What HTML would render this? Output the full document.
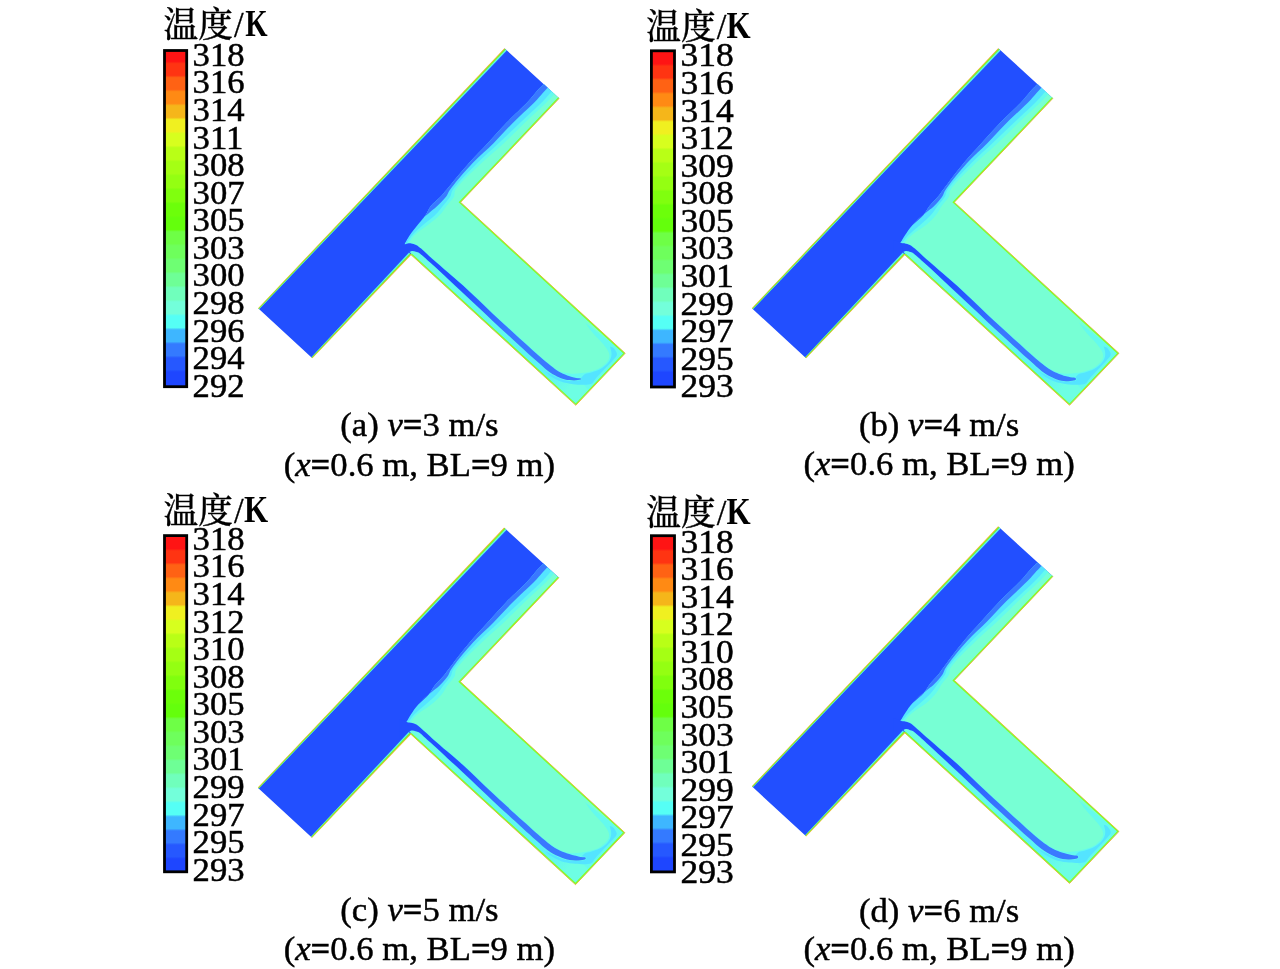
<!DOCTYPE html>
<html lang="zh">
<head>
<meta charset="utf-8">
<title>温度云图</title>
<style>
html,body{margin:0;padding:0;background:#fff;}
body{width:1280px;height:969px;overflow:hidden;}
svg{display:block;position:absolute;left:0;top:0;}
text{font-family:"Liberation Serif","Noto Serif CJK SC",serif;fill:#000;}
.ttl{font-size:35px;font-weight:500;stroke:#000;stroke-width:0.3px;}
.k{font-size:37.4px;font-weight:bold;stroke:none;}
.lab{font-size:33.5px;stroke:#000;stroke-width:0.5px;}
.cap{font-size:33px;text-anchor:middle;stroke:#000;stroke-width:0.45px;}
.eq{font-weight:bold;}
.it{font-style:italic;}
</style>
</head>
<body>
<svg width="1280" height="969" viewBox="0 0 1280 969">
<rect x="0" y="0" width="1280" height="969" fill="#fff"/>
<defs><linearGradient id="cba" gradientUnits="userSpaceOnUse" x1="0" y1="48.50" x2="0" y2="384.74"><stop offset="0.0000" stop-color="rgb(255,20,20)"/><stop offset="0.0382" stop-color="rgb(255,20,20)"/><stop offset="0.0452" stop-color="rgb(255,52,18)"/><stop offset="0.0798" stop-color="rgb(255,52,18)"/><stop offset="0.0868" stop-color="rgb(255,98,20)"/><stop offset="0.1215" stop-color="rgb(255,98,20)"/><stop offset="0.1285" stop-color="rgb(255,138,20)"/><stop offset="0.1632" stop-color="rgb(255,138,20)"/><stop offset="0.1702" stop-color="rgb(245,182,26)"/><stop offset="0.2048" stop-color="rgb(245,182,26)"/><stop offset="0.2118" stop-color="rgb(240,240,32)"/><stop offset="0.2465" stop-color="rgb(240,240,32)"/><stop offset="0.2535" stop-color="rgb(215,255,30)"/><stop offset="0.2882" stop-color="rgb(215,255,30)"/><stop offset="0.2952" stop-color="rgb(185,255,22)"/><stop offset="0.3298" stop-color="rgb(185,255,22)"/><stop offset="0.3368" stop-color="rgb(165,255,20)"/><stop offset="0.3715" stop-color="rgb(165,255,20)"/><stop offset="0.3785" stop-color="rgb(148,255,18)"/><stop offset="0.4132" stop-color="rgb(148,255,18)"/><stop offset="0.4202" stop-color="rgb(128,255,14)"/><stop offset="0.4548" stop-color="rgb(128,255,14)"/><stop offset="0.4618" stop-color="rgb(108,255,10)"/><stop offset="0.4965" stop-color="rgb(108,255,10)"/><stop offset="0.5035" stop-color="rgb(100,255,12)"/><stop offset="0.5382" stop-color="rgb(100,255,12)"/><stop offset="0.5452" stop-color="rgb(110,255,70)"/><stop offset="0.5798" stop-color="rgb(110,255,70)"/><stop offset="0.5868" stop-color="rgb(110,255,92)"/><stop offset="0.6215" stop-color="rgb(110,255,92)"/><stop offset="0.6285" stop-color="rgb(110,255,115)"/><stop offset="0.6632" stop-color="rgb(110,255,115)"/><stop offset="0.6702" stop-color="rgb(110,255,150)"/><stop offset="0.7048" stop-color="rgb(110,255,150)"/><stop offset="0.7118" stop-color="rgb(112,255,188)"/><stop offset="0.7465" stop-color="rgb(112,255,188)"/><stop offset="0.7535" stop-color="rgb(115,255,218)"/><stop offset="0.7882" stop-color="rgb(115,255,218)"/><stop offset="0.7952" stop-color="rgb(85,255,245)"/><stop offset="0.8298" stop-color="rgb(85,255,245)"/><stop offset="0.8368" stop-color="rgb(62,182,255)"/><stop offset="0.8715" stop-color="rgb(62,182,255)"/><stop offset="0.8785" stop-color="rgb(52,122,255)"/><stop offset="0.9132" stop-color="rgb(52,122,255)"/><stop offset="0.9202" stop-color="rgb(38,88,255)"/><stop offset="0.9548" stop-color="rgb(38,88,255)"/><stop offset="0.9618" stop-color="rgb(30,70,255)"/><stop offset="1.0000" stop-color="rgb(30,70,255)"/></linearGradient><linearGradient id="cbb" gradientUnits="userSpaceOnUse" x1="0" y1="51.10" x2="0" y2="385.18"><stop offset="0.0000" stop-color="rgb(255,20,20)"/><stop offset="0.0382" stop-color="rgb(255,20,20)"/><stop offset="0.0452" stop-color="rgb(255,52,18)"/><stop offset="0.0798" stop-color="rgb(255,52,18)"/><stop offset="0.0868" stop-color="rgb(255,98,20)"/><stop offset="0.1215" stop-color="rgb(255,98,20)"/><stop offset="0.1285" stop-color="rgb(255,138,20)"/><stop offset="0.1632" stop-color="rgb(255,138,20)"/><stop offset="0.1702" stop-color="rgb(245,182,26)"/><stop offset="0.2048" stop-color="rgb(245,182,26)"/><stop offset="0.2118" stop-color="rgb(240,240,32)"/><stop offset="0.2465" stop-color="rgb(240,240,32)"/><stop offset="0.2535" stop-color="rgb(215,255,30)"/><stop offset="0.2882" stop-color="rgb(215,255,30)"/><stop offset="0.2952" stop-color="rgb(185,255,22)"/><stop offset="0.3298" stop-color="rgb(185,255,22)"/><stop offset="0.3368" stop-color="rgb(165,255,20)"/><stop offset="0.3715" stop-color="rgb(165,255,20)"/><stop offset="0.3785" stop-color="rgb(148,255,18)"/><stop offset="0.4132" stop-color="rgb(148,255,18)"/><stop offset="0.4202" stop-color="rgb(128,255,14)"/><stop offset="0.4548" stop-color="rgb(128,255,14)"/><stop offset="0.4618" stop-color="rgb(108,255,10)"/><stop offset="0.4965" stop-color="rgb(108,255,10)"/><stop offset="0.5035" stop-color="rgb(100,255,12)"/><stop offset="0.5382" stop-color="rgb(100,255,12)"/><stop offset="0.5452" stop-color="rgb(110,255,70)"/><stop offset="0.5798" stop-color="rgb(110,255,70)"/><stop offset="0.5868" stop-color="rgb(110,255,92)"/><stop offset="0.6215" stop-color="rgb(110,255,92)"/><stop offset="0.6285" stop-color="rgb(110,255,115)"/><stop offset="0.6632" stop-color="rgb(110,255,115)"/><stop offset="0.6702" stop-color="rgb(110,255,150)"/><stop offset="0.7048" stop-color="rgb(110,255,150)"/><stop offset="0.7118" stop-color="rgb(112,255,188)"/><stop offset="0.7465" stop-color="rgb(112,255,188)"/><stop offset="0.7535" stop-color="rgb(115,255,218)"/><stop offset="0.7882" stop-color="rgb(115,255,218)"/><stop offset="0.7952" stop-color="rgb(85,255,245)"/><stop offset="0.8298" stop-color="rgb(85,255,245)"/><stop offset="0.8368" stop-color="rgb(62,182,255)"/><stop offset="0.8715" stop-color="rgb(62,182,255)"/><stop offset="0.8785" stop-color="rgb(52,122,255)"/><stop offset="0.9132" stop-color="rgb(52,122,255)"/><stop offset="0.9202" stop-color="rgb(38,88,255)"/><stop offset="0.9548" stop-color="rgb(38,88,255)"/><stop offset="0.9618" stop-color="rgb(30,70,255)"/><stop offset="1.0000" stop-color="rgb(30,70,255)"/></linearGradient><linearGradient id="cbc" gradientUnits="userSpaceOnUse" x1="0" y1="535.70" x2="0" y2="871.70"><stop offset="0.0000" stop-color="rgb(255,20,20)"/><stop offset="0.0382" stop-color="rgb(255,20,20)"/><stop offset="0.0452" stop-color="rgb(255,52,18)"/><stop offset="0.0798" stop-color="rgb(255,52,18)"/><stop offset="0.0868" stop-color="rgb(255,98,20)"/><stop offset="0.1215" stop-color="rgb(255,98,20)"/><stop offset="0.1285" stop-color="rgb(255,138,20)"/><stop offset="0.1632" stop-color="rgb(255,138,20)"/><stop offset="0.1702" stop-color="rgb(245,182,26)"/><stop offset="0.2048" stop-color="rgb(245,182,26)"/><stop offset="0.2118" stop-color="rgb(240,240,32)"/><stop offset="0.2465" stop-color="rgb(240,240,32)"/><stop offset="0.2535" stop-color="rgb(215,255,30)"/><stop offset="0.2882" stop-color="rgb(215,255,30)"/><stop offset="0.2952" stop-color="rgb(185,255,22)"/><stop offset="0.3298" stop-color="rgb(185,255,22)"/><stop offset="0.3368" stop-color="rgb(165,255,20)"/><stop offset="0.3715" stop-color="rgb(165,255,20)"/><stop offset="0.3785" stop-color="rgb(148,255,18)"/><stop offset="0.4132" stop-color="rgb(148,255,18)"/><stop offset="0.4202" stop-color="rgb(128,255,14)"/><stop offset="0.4548" stop-color="rgb(128,255,14)"/><stop offset="0.4618" stop-color="rgb(108,255,10)"/><stop offset="0.4965" stop-color="rgb(108,255,10)"/><stop offset="0.5035" stop-color="rgb(100,255,12)"/><stop offset="0.5382" stop-color="rgb(100,255,12)"/><stop offset="0.5452" stop-color="rgb(110,255,70)"/><stop offset="0.5798" stop-color="rgb(110,255,70)"/><stop offset="0.5868" stop-color="rgb(110,255,92)"/><stop offset="0.6215" stop-color="rgb(110,255,92)"/><stop offset="0.6285" stop-color="rgb(110,255,115)"/><stop offset="0.6632" stop-color="rgb(110,255,115)"/><stop offset="0.6702" stop-color="rgb(110,255,150)"/><stop offset="0.7048" stop-color="rgb(110,255,150)"/><stop offset="0.7118" stop-color="rgb(112,255,188)"/><stop offset="0.7465" stop-color="rgb(112,255,188)"/><stop offset="0.7535" stop-color="rgb(115,255,218)"/><stop offset="0.7882" stop-color="rgb(115,255,218)"/><stop offset="0.7952" stop-color="rgb(85,255,245)"/><stop offset="0.8298" stop-color="rgb(85,255,245)"/><stop offset="0.8368" stop-color="rgb(62,182,255)"/><stop offset="0.8715" stop-color="rgb(62,182,255)"/><stop offset="0.8785" stop-color="rgb(52,122,255)"/><stop offset="0.9132" stop-color="rgb(52,122,255)"/><stop offset="0.9202" stop-color="rgb(38,88,255)"/><stop offset="0.9548" stop-color="rgb(38,88,255)"/><stop offset="0.9618" stop-color="rgb(30,70,255)"/><stop offset="1.0000" stop-color="rgb(30,70,255)"/></linearGradient><linearGradient id="cbd" gradientUnits="userSpaceOnUse" x1="0" y1="536.05" x2="0" y2="870.85"><stop offset="0.0000" stop-color="rgb(255,20,20)"/><stop offset="0.0382" stop-color="rgb(255,20,20)"/><stop offset="0.0452" stop-color="rgb(255,52,18)"/><stop offset="0.0798" stop-color="rgb(255,52,18)"/><stop offset="0.0868" stop-color="rgb(255,98,20)"/><stop offset="0.1215" stop-color="rgb(255,98,20)"/><stop offset="0.1285" stop-color="rgb(255,138,20)"/><stop offset="0.1632" stop-color="rgb(255,138,20)"/><stop offset="0.1702" stop-color="rgb(245,182,26)"/><stop offset="0.2048" stop-color="rgb(245,182,26)"/><stop offset="0.2118" stop-color="rgb(240,240,32)"/><stop offset="0.2465" stop-color="rgb(240,240,32)"/><stop offset="0.2535" stop-color="rgb(215,255,30)"/><stop offset="0.2882" stop-color="rgb(215,255,30)"/><stop offset="0.2952" stop-color="rgb(185,255,22)"/><stop offset="0.3298" stop-color="rgb(185,255,22)"/><stop offset="0.3368" stop-color="rgb(165,255,20)"/><stop offset="0.3715" stop-color="rgb(165,255,20)"/><stop offset="0.3785" stop-color="rgb(148,255,18)"/><stop offset="0.4132" stop-color="rgb(148,255,18)"/><stop offset="0.4202" stop-color="rgb(128,255,14)"/><stop offset="0.4548" stop-color="rgb(128,255,14)"/><stop offset="0.4618" stop-color="rgb(108,255,10)"/><stop offset="0.4965" stop-color="rgb(108,255,10)"/><stop offset="0.5035" stop-color="rgb(100,255,12)"/><stop offset="0.5382" stop-color="rgb(100,255,12)"/><stop offset="0.5452" stop-color="rgb(110,255,70)"/><stop offset="0.5798" stop-color="rgb(110,255,70)"/><stop offset="0.5868" stop-color="rgb(110,255,92)"/><stop offset="0.6215" stop-color="rgb(110,255,92)"/><stop offset="0.6285" stop-color="rgb(110,255,115)"/><stop offset="0.6632" stop-color="rgb(110,255,115)"/><stop offset="0.6702" stop-color="rgb(110,255,150)"/><stop offset="0.7048" stop-color="rgb(110,255,150)"/><stop offset="0.7118" stop-color="rgb(112,255,188)"/><stop offset="0.7465" stop-color="rgb(112,255,188)"/><stop offset="0.7535" stop-color="rgb(115,255,218)"/><stop offset="0.7882" stop-color="rgb(115,255,218)"/><stop offset="0.7952" stop-color="rgb(85,255,245)"/><stop offset="0.8298" stop-color="rgb(85,255,245)"/><stop offset="0.8368" stop-color="rgb(62,182,255)"/><stop offset="0.8715" stop-color="rgb(62,182,255)"/><stop offset="0.8785" stop-color="rgb(52,122,255)"/><stop offset="0.9132" stop-color="rgb(52,122,255)"/><stop offset="0.9202" stop-color="rgb(38,88,255)"/><stop offset="0.9548" stop-color="rgb(38,88,255)"/><stop offset="0.9618" stop-color="rgb(30,70,255)"/><stop offset="1.0000" stop-color="rgb(30,70,255)"/></linearGradient><clipPath id="tclip"><polygon points="504.2,48.0 559.7,98.2 461.2,202.3 625.7,353.3 575.8,405.8 410.9,255.2 312.1,358.6 257.8,308.5"/></clipPath><linearGradient id="und" gradientUnits="userSpaceOnUse" x1="411" y1="254" x2="576" y2="404"><stop offset="0" stop-color="rgb(109,254,227)"/><stop offset="0.35" stop-color="rgb(100,250,238)"/><stop offset="0.82" stop-color="rgb(90,242,248)"/><stop offset="0.93" stop-color="rgb(109,254,227)"/><stop offset="1" stop-color="rgb(109,254,227)"/></linearGradient><linearGradient id="stk" gradientUnits="userSpaceOnUse" x1="404" y1="245" x2="580" y2="379"><stop offset="0" stop-color="rgb(34,79,255)"/><stop offset="0.3" stop-color="rgb(34,79,255)"/><stop offset="0.62" stop-color="rgb(58,120,255)"/><stop offset="1" stop-color="rgb(58,120,255)"/></linearGradient></defs>
<g transform="translate(0.00,0.00)">
<g>
<polygon points="504.8,48.6 559.1,98.2 460.4,202.3 625.0,353.3 575.8,405.1 410.9,254.4 312.1,358.0 258.4,308.5" fill="rgb(34,79,255)"/>
<path fill="rgb(119,255,212)" d="M553.5,93.1L559.1,98.2 L460.4,202.3 L625.0,353.3 L575.8,405.1 L410.9,254.4L406.8,244.7 C408.0,242.9 410.5,237.5 413.8,234.1 C417.1,230.7 422.6,227.4 426.8,224.1 C431.0,220.8 435.7,217.3 438.8,214.1 C441.9,210.9 443.3,208.1 445.6,205.1 C447.9,202.1 450.9,199.3 452.8,196.1 C454.6,192.9 451.9,191.8 456.5,186.1 C461.1,180.4 472.8,169.4 480.6,162.1 C488.4,154.8 496.0,148.8 503.1,142.1 C510.2,135.4 516.5,128.8 523.5,122.1 C530.5,115.4 540.0,106.9 545.0,102.1 C550.0,97.3 552.1,94.6 553.5,93.1Z"/>
<path fill="rgb(100,250,238)" d="M554.5,94.0 C553.1,95.5 551.0,98.2 546.0,103.0 C541.0,107.8 531.5,116.3 524.5,123.0 C517.5,129.7 511.2,136.3 504.1,143.0 C497.0,149.7 489.4,155.7 481.6,163.0 C473.8,170.3 462.1,181.3 457.5,187.0 C452.9,192.7 455.6,193.8 453.8,197.0 C451.9,200.2 448.9,203.0 446.6,206.0 C444.3,209.0 442.9,211.8 439.8,215.0 C436.7,218.2 432.0,221.7 427.8,225.0 C423.6,228.3 418.1,231.6 414.8,235.0 C411.5,238.4 409.0,243.8 407.8,245.6L404.8,244.1 C405.9,242.4 408.6,237.4 411.5,234.1 C414.4,230.8 418.2,227.4 422.0,224.1 C425.8,220.8 430.9,217.3 434.2,214.1 C437.5,210.9 439.3,208.1 441.8,205.1 C444.3,202.1 447.0,199.3 449.0,196.1 C451.0,192.9 449.2,191.8 453.8,186.1 C458.4,180.4 469.0,169.4 476.4,162.1 C483.7,154.8 490.8,148.8 497.9,142.1 C505.0,135.4 511.8,128.8 518.9,122.1 C525.9,115.4 535.2,107.1 540.2,102.1 C545.3,97.1 547.5,94.0 549.3,92.1 C551.0,90.2 550.5,90.8 550.8,90.6Z"/>
<path fill="rgb(84,228,255)" d="M551.8,91.5 C551.5,91.8 552.0,91.1 550.3,93.0 C548.5,94.9 546.3,98.0 541.2,103.0 C536.2,108.0 526.9,116.3 519.9,123.0 C512.8,129.7 506.0,136.3 498.9,143.0 C491.8,149.7 484.7,155.7 477.4,163.0 C470.0,170.3 459.4,181.3 454.8,187.0 C450.2,192.7 452.0,193.8 450.0,197.0 C448.0,200.2 445.3,203.0 442.8,206.0 C440.3,209.0 438.5,211.8 435.2,215.0 C431.9,218.2 426.8,221.7 423.0,225.0 C419.2,228.3 415.4,231.7 412.5,235.0 C409.6,238.3 406.9,243.3 405.8,245.0L404.4,244.7 C405.3,243.1 407.7,238.3 409.9,235.0 C412.1,231.7 415.0,228.3 417.6,225.0 C420.2,221.7 423.4,218.2 425.6,215.0 C427.8,211.8 428.4,209.0 430.8,206.0 C433.2,203.0 437.2,200.2 440.2,197.0 C443.2,193.8 444.0,192.7 448.8,187.0 C453.6,181.3 462.5,170.3 469.0,163.0 C475.5,155.7 481.7,149.7 487.9,143.0 C494.1,136.3 499.8,129.7 506.2,123.0 C512.7,116.3 521.9,108.0 526.7,103.0 C531.5,98.0 532.5,96.2 535.3,93.0 C538.1,89.8 542.3,85.6 543.7,84.1Z"/>
<path fill="rgb(58,120,255)" d="M547.7,87.8 C546.9,88.7 545.1,90.5 542.8,93.0 C540.5,95.5 538.8,98.0 533.8,103.0 C528.8,108.0 519.5,116.3 512.8,123.0 C506.1,129.7 500.4,136.3 493.8,143.0 C487.1,149.7 479.7,155.7 472.7,163.0 C465.7,170.3 456.5,181.3 452.0,187.0 C447.5,192.7 448.3,193.8 445.8,197.0 C443.3,200.2 440.4,203.0 437.2,206.0 C434.0,209.0 429.0,212.9 426.6,215.0 C424.2,217.1 423.3,218.0 422.6,218.6L417.6,225.0 C418.9,223.3 423.4,218.2 425.6,215.0 C427.8,211.8 428.4,209.0 430.8,206.0 C433.2,203.0 437.2,200.2 440.2,197.0 C443.2,193.8 444.0,192.7 448.8,187.0 C453.6,181.3 462.5,170.3 469.0,163.0 C475.5,155.7 481.7,149.7 487.9,143.0 C494.1,136.3 499.8,129.7 506.2,123.0 C512.7,116.3 521.9,108.0 526.7,103.0 C531.5,98.0 532.5,96.2 535.3,93.0 C538.1,89.8 542.3,85.6 543.7,84.1Z"/>
<path fill="url(#und)" d="M410.9,254.4L575.8,405.1 L591.5,388.6 L584.0,381.0L580.6,379.4 C579.5,379.6 576.6,380.4 574.0,380.4 C571.4,380.4 567.8,380.3 565.0,379.6 C562.2,378.9 559.8,377.8 557.0,376.4 C554.2,375.0 551.5,373.6 548.0,371.0 C544.5,368.4 540.2,364.3 536.0,360.6 C531.8,356.9 527.7,353.1 523.0,348.8 C518.3,344.6 513.0,339.7 508.0,335.1 C503.0,330.5 498.0,326.0 493.0,321.3 C488.0,316.6 483.0,311.8 478.0,307.1 C473.0,302.4 468.0,297.6 463.0,292.9 C458.0,288.2 453.0,283.6 448.0,279.0 C443.0,274.4 437.0,268.8 433.0,265.1 C429.0,261.4 426.2,259.0 424.0,257.0 C421.8,255.0 420.8,254.1 419.5,253.2 C418.2,252.3 417.1,252.2 416.0,251.8 C414.9,251.4 413.9,251.0 412.8,251.0 C411.7,251.0 410.1,251.7 409.6,251.8Z"/>
<path fill="rgb(100,250,238)" d="M585.0,322.5 C586.2,324.2 590.0,329.5 592.5,332.5 C595.0,335.5 597.7,338.0 600.0,340.6 C602.3,343.2 604.7,345.7 606.2,348.1 C607.8,350.5 609.2,352.8 609.4,355.0 C609.6,357.2 609.0,359.2 607.5,361.2 C606.0,363.3 603.3,365.8 600.6,367.5 C597.9,369.2 594.4,370.3 591.2,371.2 C588.1,372.2 585.0,372.7 581.9,373.1 C578.8,373.5 575.8,373.9 572.5,373.8 C569.2,373.6 563.8,372.3 562.0,372.0L565.0,376.5 L580.5,380.5 L588.0,389.5 L590.5,388.2L625.0,353.3Z"/>
<path fill="rgb(84,228,255)" d="M610.0,346.6 C610.5,346.8 612.3,347.0 613.3,347.8 C614.3,348.6 615.4,350.3 616.0,351.5 C616.6,352.7 617.3,353.6 616.9,355.0 C616.5,356.4 615.7,357.2 613.6,359.6 C611.5,362.0 607.2,366.4 604.2,369.6 C601.2,372.8 597.6,376.6 595.5,379.0 C593.4,381.4 593.4,382.8 591.5,383.8 C589.6,384.8 587.1,384.7 584.0,384.8 C580.9,384.9 576.8,384.7 573.0,384.2 C569.2,383.7 564.7,382.9 561.0,381.6 C557.3,380.3 553.7,378.1 551.0,376.4 C548.3,374.7 546.0,372.3 545.0,371.5L552.5,375.0 C554.6,375.8 561.4,378.9 565.0,379.8 C568.6,380.7 571.4,380.7 574.0,380.4 C576.6,380.1 578.7,379.3 580.5,378.2 C582.3,377.1 583.2,375.0 585.0,374.0 C586.8,373.0 588.8,373.2 591.2,372.4 C593.8,371.6 597.3,370.7 600.0,369.2 C602.7,367.7 605.7,365.4 607.5,363.5 C609.3,361.6 610.4,359.4 611.0,357.5 C611.6,355.6 611.6,354.0 611.4,352.2 C611.2,350.4 610.2,347.5 610.0,346.6Z"/>
<path fill="url(#stk)" stroke="rgb(100,250,238)" stroke-width="1.2" d="M404.4,244.7 C404.9,244.5 406.5,243.7 407.6,243.5 C408.7,243.3 409.9,243.2 411.2,243.4 C412.6,243.6 414.4,244.0 416.0,244.9 C417.6,245.8 418.2,246.2 421.0,248.6 C423.8,251.0 428.5,255.5 433.0,259.5 C437.5,263.5 443.0,268.1 448.0,272.4 C453.0,276.7 458.0,280.9 463.0,285.4 C468.0,289.9 473.0,294.9 478.0,299.6 C483.0,304.4 488.0,309.2 493.0,313.9 C498.0,318.6 503.0,323.1 508.0,327.7 C513.0,332.3 518.3,337.1 523.0,341.4 C527.7,345.6 531.8,349.5 536.0,353.2 C540.2,356.9 544.5,360.7 548.0,363.6 C551.5,366.5 554.2,368.6 557.0,370.4 C559.8,372.2 562.2,373.3 565.0,374.5 C567.8,375.7 571.4,376.9 574.0,377.6 C576.6,378.3 579.5,378.4 580.6,378.5Q582.0,378.9 580.6,379.4 C579.5,379.6 576.6,380.4 574.0,380.4 C571.4,380.4 567.8,380.3 565.0,379.6 C562.2,378.9 559.8,377.8 557.0,376.4 C554.2,375.0 551.5,373.6 548.0,371.0 C544.5,368.4 540.2,364.3 536.0,360.6 C531.8,356.9 527.7,353.1 523.0,348.8 C518.3,344.6 513.0,339.7 508.0,335.1 C503.0,330.5 498.0,326.0 493.0,321.3 C488.0,316.6 483.0,311.8 478.0,307.1 C473.0,302.4 468.0,297.6 463.0,292.9 C458.0,288.2 453.0,283.6 448.0,279.0 C443.0,274.4 437.0,268.8 433.0,265.1 C429.0,261.4 426.2,259.0 424.0,257.0 C421.8,255.0 420.8,254.1 419.5,253.2 C418.2,252.3 417.1,252.2 416.0,251.8 C414.9,251.4 413.9,251.0 412.8,251.0 C411.7,251.0 410.1,251.7 409.6,251.8L408.4,252.4 L403.0,250.0Z"/>
<path fill="url(#stk)" d="M404.4,244.7 C404.9,244.5 406.5,243.7 407.6,243.5 C408.7,243.3 409.9,243.2 411.2,243.4 C412.6,243.6 414.4,244.0 416.0,244.9 C417.6,245.8 418.2,246.2 421.0,248.6 C423.8,251.0 428.5,255.5 433.0,259.5 C437.5,263.5 443.0,268.1 448.0,272.4 C453.0,276.7 458.0,280.9 463.0,285.4 C468.0,289.9 473.0,294.9 478.0,299.6 C483.0,304.4 488.0,309.2 493.0,313.9 C498.0,318.6 503.0,323.1 508.0,327.7 C513.0,332.3 518.3,337.1 523.0,341.4 C527.7,345.6 531.8,349.5 536.0,353.2 C540.2,356.9 544.5,360.7 548.0,363.6 C551.5,366.5 554.2,368.6 557.0,370.4 C559.8,372.2 562.2,373.3 565.0,374.5 C567.8,375.7 571.4,376.9 574.0,377.6 C576.6,378.3 579.5,378.4 580.6,378.5Q582.0,378.9 580.6,379.4 C579.5,379.6 576.6,380.4 574.0,380.4 C571.4,380.4 567.8,380.3 565.0,379.6 C562.2,378.9 559.8,377.8 557.0,376.4 C554.2,375.0 551.5,373.6 548.0,371.0 C544.5,368.4 540.2,364.3 536.0,360.6 C531.8,356.9 527.7,353.1 523.0,348.8 C518.3,344.6 513.0,339.7 508.0,335.1 C503.0,330.5 498.0,326.0 493.0,321.3 C488.0,316.6 483.0,311.8 478.0,307.1 C473.0,302.4 468.0,297.6 463.0,292.9 C458.0,288.2 453.0,283.6 448.0,279.0 C443.0,274.4 437.0,268.8 433.0,265.1 C429.0,261.4 426.2,259.0 424.0,257.0 C421.8,255.0 420.8,254.1 419.5,253.2 C418.2,252.3 417.1,252.2 416.0,251.8 C414.9,251.4 413.9,251.0 412.8,251.0 C411.7,251.0 410.1,251.7 409.6,251.8L408.4,252.4 L403.0,250.0Z"/>
<polygon points="400.0,240.0 405.1,244.5 409.6,251.9 411.2,253.6 400.0,265.0" fill="rgb(34,79,255)"/>
<path fill="rgb(90,245,235)" d="M258.8,308.8L505.5,49.3 L506.8,50.5 L259.2,309.2Z"/>
<path fill="rgb(255,175,45)" d="M258.1,308.2L504.4,48.2 L505.1,48.9 L258.6,308.7Z"/>
<path fill="rgb(132,255,32)" d="M258.4,308.5L504.9,48.7 L505.8,49.5 L259.0,309.0Z"/>
<path fill="rgb(90,245,235)" d="M311.7,357.6L410.2,253.7 L409.0,252.5 L311.3,357.2Z"/>
<path fill="rgb(255,175,45)" d="M312.4,358.3L411.4,254.8 L410.7,254.1 L311.8,357.8Z"/>
<path fill="rgb(132,255,32)" d="M312.1,358.0L410.8,254.3 L410.0,253.4 L311.5,357.4Z"/>
<path fill="none" stroke="rgb(255,175,45)" stroke-width="0.9" stroke-linejoin="miter" d="M559.2,98.3L460.6,202.3 L625.2,353.3 L575.8,405.3 L410.8,254.5"/>
<path fill="none" stroke="rgb(132,255,32)" stroke-width="1.1" stroke-linejoin="miter" d="M558.6,97.7L459.4,202.3 L624.0,353.3 L575.8,404.1 L411.4,253.9"/>
</g>
</g>
<rect x="163.1" y="49.1" width="25.0" height="339.0" fill="#000"/>
<rect x="165.9" y="51.9" width="19.4" height="333.4" fill="url(#cba)"/>
<text class="ttl" transform="translate(163.6,37.0) scale(0.990,1.000)">温度<tspan dx="1.2">/</tspan><tspan class="k" dx="1.6" dy="-0.6" textLength="22.60" lengthAdjust="spacingAndGlyphs">K</tspan></text>
<text class="lab" transform="translate(192.6,65.80) scale(1.035,1)">318</text>
<text class="lab" transform="translate(192.6,93.38) scale(1.035,1)">316</text>
<text class="lab" transform="translate(192.6,120.96) scale(1.035,1)">314</text>
<text class="lab" transform="translate(192.6,148.54) scale(1.035,1)">311</text>
<text class="lab" transform="translate(192.6,176.12) scale(1.035,1)">308</text>
<text class="lab" transform="translate(192.6,203.70) scale(1.035,1)">307</text>
<text class="lab" transform="translate(192.6,231.28) scale(1.035,1)">305</text>
<text class="lab" transform="translate(192.6,258.86) scale(1.035,1)">303</text>
<text class="lab" transform="translate(192.6,286.44) scale(1.035,1)">300</text>
<text class="lab" transform="translate(192.6,314.02) scale(1.035,1)">298</text>
<text class="lab" transform="translate(192.6,341.60) scale(1.035,1)">296</text>
<text class="lab" transform="translate(192.6,369.18) scale(1.035,1)">294</text>
<text class="lab" transform="translate(192.6,396.76) scale(1.035,1)">292</text>
<text class="cap" transform="translate(419.4,436.1) scale(1.050,1)">(a) <tspan class="it">v</tspan><tspan class="eq">=</tspan>3 m/s</text>
<text class="cap" transform="translate(419.4,475.5) scale(1.050,1)">(<tspan class="it">x</tspan><tspan class="eq">=</tspan>0.6 m, BL<tspan class="eq">=</tspan>9 m)</text>
<g transform="translate(493.75,0.00)">
<g>
<polygon points="504.8,48.6 559.1,98.2 460.4,202.3 625.0,353.3 575.8,405.1 410.9,254.4 312.1,358.0 258.4,308.5" fill="rgb(34,79,255)"/>
<path fill="rgb(119,255,212)" d="M553.5,93.1L559.1,98.2 L460.4,202.3 L625.0,353.3 L575.8,405.1 L410.9,254.4L409.2,242.9 C410.5,241.4 413.3,237.2 417.0,234.1 C420.7,231.0 427.2,227.4 431.3,224.1 C435.4,220.8 438.7,217.3 441.3,214.1 C443.9,210.9 444.8,208.1 446.9,205.1 C449.0,202.1 452.2,199.3 454.0,196.1 C455.8,192.9 453.2,191.8 457.7,186.1 C462.2,180.4 473.5,169.4 481.0,162.1 C488.6,154.8 496.0,148.8 503.1,142.1 C510.2,135.4 516.5,128.8 523.5,122.1 C530.5,115.4 540.0,106.9 545.0,102.1 C550.0,97.3 552.1,94.6 553.5,93.1Z"/>
<path fill="rgb(100,250,238)" d="M554.5,94.0 C553.1,95.5 551.0,98.2 546.0,103.0 C541.0,107.8 531.5,116.3 524.5,123.0 C517.5,129.7 511.2,136.3 504.1,143.0 C497.0,149.7 489.6,155.7 482.0,163.0 C474.5,170.3 463.2,181.3 458.7,187.0 C454.2,192.7 456.8,193.8 455.0,197.0 C453.2,200.2 450.0,203.0 447.9,206.0 C445.8,209.0 444.9,211.8 442.3,215.0 C439.7,218.2 436.4,221.7 432.3,225.0 C428.2,228.3 421.7,231.9 418.0,235.0 C414.3,238.1 411.5,242.3 410.2,243.8L407.2,242.3 C408.3,240.9 410.9,237.1 413.9,234.1 C416.9,231.1 421.7,227.4 425.4,224.1 C429.1,220.8 433.2,217.3 436.1,214.1 C439.0,210.9 440.5,208.1 442.8,205.1 C445.1,202.1 448.0,199.3 449.9,196.1 C451.9,192.9 450.2,191.8 454.7,186.1 C459.2,180.4 469.5,169.4 476.7,162.1 C483.9,154.8 490.9,148.8 497.9,142.1 C504.9,135.4 511.8,128.8 518.9,122.1 C525.9,115.4 535.2,107.1 540.2,102.1 C545.3,97.1 547.5,94.0 549.3,92.1 C551.0,90.2 550.5,90.8 550.8,90.6Z"/>
<path fill="rgb(84,228,255)" d="M551.8,91.5 C551.5,91.8 552.0,91.1 550.3,93.0 C548.5,94.9 546.3,98.0 541.2,103.0 C536.2,108.0 526.9,116.3 519.9,123.0 C512.8,129.7 505.9,136.3 498.9,143.0 C491.9,149.7 484.9,155.7 477.7,163.0 C470.5,170.3 460.2,181.3 455.7,187.0 C451.2,192.7 452.9,193.8 450.9,197.0 C449.0,200.2 446.1,203.0 443.8,206.0 C441.5,209.0 440.0,211.8 437.1,215.0 C434.2,218.2 430.1,221.7 426.4,225.0 C422.7,228.3 417.9,232.0 414.9,235.0 C411.9,238.0 409.3,241.8 408.2,243.2L406.8,242.9 C407.6,241.6 409.4,238.0 411.4,235.0 C413.4,232.0 415.8,228.3 418.8,225.0 C421.8,221.7 426.8,218.2 429.6,215.0 C432.4,211.8 433.3,209.0 435.7,206.0 C438.1,203.0 441.3,200.2 443.9,197.0 C446.5,193.8 447.1,192.7 451.4,187.0 C455.8,181.3 463.9,170.3 470.0,163.0 C476.1,155.7 481.9,149.7 487.9,143.0 C493.9,136.3 499.8,129.7 506.2,123.0 C512.7,116.3 521.9,108.0 526.7,103.0 C531.5,98.0 532.5,96.2 535.3,93.0 C538.1,89.8 542.3,85.6 543.7,84.1Z"/>
<path fill="rgb(58,120,255)" d="M547.7,87.8 C546.9,88.7 545.1,90.5 542.8,93.0 C540.5,95.5 538.8,98.0 533.8,103.0 C528.8,108.0 519.5,116.3 512.8,123.0 C506.1,129.7 500.3,136.3 493.8,143.0 C487.2,149.7 480.0,155.7 473.3,163.0 C466.7,170.3 457.9,181.3 453.7,187.0 C449.5,192.7 450.4,193.8 448.2,197.0 C446.0,200.2 443.6,203.0 440.4,206.0 C437.2,209.0 431.8,212.9 429.2,215.0 C426.6,217.1 425.3,218.0 424.5,218.6L418.8,225.0 C420.6,223.3 426.8,218.2 429.6,215.0 C432.4,211.8 433.3,209.0 435.7,206.0 C438.1,203.0 441.3,200.2 443.9,197.0 C446.5,193.8 447.1,192.7 451.4,187.0 C455.8,181.3 463.9,170.3 470.0,163.0 C476.1,155.7 481.9,149.7 487.9,143.0 C493.9,136.3 499.8,129.7 506.2,123.0 C512.7,116.3 521.9,108.0 526.7,103.0 C531.5,98.0 532.5,96.2 535.3,93.0 C538.1,89.8 542.3,85.6 543.7,84.1Z"/>
<path fill="url(#und)" d="M410.9,254.4L575.8,405.1 L591.5,388.6 L584.0,381.0L580.6,379.4 C579.5,379.6 576.6,380.4 574.0,380.4 C571.4,380.4 567.8,380.3 565.0,379.6 C562.2,378.9 559.8,377.8 557.0,376.4 C554.2,375.0 551.5,373.6 548.0,371.0 C544.5,368.4 540.2,364.3 536.0,360.6 C531.8,356.9 527.7,353.1 523.0,348.8 C518.3,344.6 513.0,339.7 508.0,335.1 C503.0,330.5 498.0,326.0 493.0,321.3 C488.0,316.6 483.0,311.8 478.0,307.1 C473.0,302.4 468.0,297.6 463.0,292.9 C458.0,288.2 453.0,283.6 448.0,279.0 C443.0,274.4 437.0,268.8 433.0,265.1 C429.0,261.4 426.2,259.0 424.0,257.0 C421.8,255.0 420.8,254.1 419.5,253.2 C418.2,252.3 417.1,252.2 416.0,251.8 C414.9,251.4 413.9,251.0 412.8,251.0 C411.7,251.0 410.1,251.7 409.6,251.8Z"/>
<path fill="rgb(100,250,238)" d="M585.0,322.5 C586.2,324.2 590.0,329.5 592.5,332.5 C595.0,335.5 597.7,338.0 600.0,340.6 C602.3,343.2 604.7,345.7 606.2,348.1 C607.8,350.5 609.2,352.8 609.4,355.0 C609.6,357.2 609.0,359.2 607.5,361.2 C606.0,363.3 603.3,365.8 600.6,367.5 C597.9,369.2 594.4,370.3 591.2,371.2 C588.1,372.2 585.0,372.7 581.9,373.1 C578.8,373.5 575.8,373.9 572.5,373.8 C569.2,373.6 563.8,372.3 562.0,372.0L565.0,376.5 L580.5,380.5 L588.0,389.5 L590.5,388.2L625.0,353.3Z"/>
<path fill="rgb(84,228,255)" d="M610.0,346.6 C610.5,346.8 612.3,347.0 613.3,347.8 C614.3,348.6 615.4,350.3 616.0,351.5 C616.6,352.7 617.3,353.6 616.9,355.0 C616.5,356.4 615.7,357.2 613.6,359.6 C611.5,362.0 607.2,366.4 604.2,369.6 C601.2,372.8 597.6,376.6 595.5,379.0 C593.4,381.4 593.4,382.8 591.5,383.8 C589.6,384.8 587.1,384.7 584.0,384.8 C580.9,384.9 576.8,384.7 573.0,384.2 C569.2,383.7 564.7,382.9 561.0,381.6 C557.3,380.3 553.7,378.1 551.0,376.4 C548.3,374.7 546.0,372.3 545.0,371.5L552.5,375.0 C554.6,375.8 561.4,378.9 565.0,379.8 C568.6,380.7 571.4,380.7 574.0,380.4 C576.6,380.1 578.7,379.3 580.5,378.2 C582.3,377.1 583.2,375.0 585.0,374.0 C586.8,373.0 588.8,373.2 591.2,372.4 C593.8,371.6 597.3,370.7 600.0,369.2 C602.7,367.7 605.7,365.4 607.5,363.5 C609.3,361.6 610.4,359.4 611.0,357.5 C611.6,355.6 611.6,354.0 611.4,352.2 C611.2,350.4 610.2,347.5 610.0,346.6Z"/>
<path fill="url(#stk)" stroke="rgb(100,250,238)" stroke-width="1.2" d="M406.8,242.9 C407.3,243.0 409.1,243.1 409.8,243.2 C410.5,243.3 410.2,243.1 411.2,243.4 C412.3,243.7 414.4,244.0 416.0,244.9 C417.6,245.8 418.2,246.2 421.0,248.6 C423.8,251.0 428.5,255.5 433.0,259.5 C437.5,263.5 443.0,268.1 448.0,272.4 C453.0,276.7 458.0,280.9 463.0,285.4 C468.0,289.9 473.0,294.9 478.0,299.6 C483.0,304.4 488.0,309.2 493.0,313.9 C498.0,318.6 503.0,323.1 508.0,327.7 C513.0,332.3 518.3,337.1 523.0,341.4 C527.7,345.6 531.8,349.5 536.0,353.2 C540.2,356.9 544.5,360.6 548.0,363.4 C551.6,366.2 554.3,368.2 557.1,370.0 C560.0,371.8 562.4,372.8 565.3,373.9 C568.2,375.0 572.0,376.2 574.6,376.8 C577.2,377.4 580.1,377.6 581.2,377.7Q583.3,378.9 581.2,380.2 C580.1,380.4 577.2,381.2 574.6,381.2 C572.0,381.2 568.2,380.9 565.3,380.2 C562.4,379.5 560.0,378.3 557.1,376.8 C554.3,375.3 551.6,373.9 548.0,371.2 C544.5,368.5 540.2,364.3 536.0,360.6 C531.8,356.9 527.7,353.1 523.0,348.8 C518.3,344.6 513.0,339.7 508.0,335.1 C503.0,330.5 498.0,326.0 493.0,321.3 C488.0,316.6 483.0,311.8 478.0,307.1 C473.0,302.4 468.0,297.6 463.0,292.9 C458.0,288.2 453.0,283.6 448.0,279.0 C443.0,274.4 437.0,268.8 433.0,265.1 C429.0,261.4 426.2,259.0 424.0,257.0 C421.8,255.0 420.8,254.1 419.5,253.2 C418.2,252.3 417.1,252.2 416.0,251.8 C414.9,251.4 413.9,251.0 412.8,251.0 C411.7,251.0 410.1,251.7 409.6,251.8L408.4,252.4 L403.0,250.0Z"/>
<path fill="url(#stk)" d="M406.8,242.9 C407.3,243.0 409.1,243.1 409.8,243.2 C410.5,243.3 410.2,243.1 411.2,243.4 C412.3,243.7 414.4,244.0 416.0,244.9 C417.6,245.8 418.2,246.2 421.0,248.6 C423.8,251.0 428.5,255.5 433.0,259.5 C437.5,263.5 443.0,268.1 448.0,272.4 C453.0,276.7 458.0,280.9 463.0,285.4 C468.0,289.9 473.0,294.9 478.0,299.6 C483.0,304.4 488.0,309.2 493.0,313.9 C498.0,318.6 503.0,323.1 508.0,327.7 C513.0,332.3 518.3,337.1 523.0,341.4 C527.7,345.6 531.8,349.5 536.0,353.2 C540.2,356.9 544.5,360.6 548.0,363.4 C551.6,366.2 554.3,368.2 557.1,370.0 C560.0,371.8 562.4,372.8 565.3,373.9 C568.2,375.0 572.0,376.2 574.6,376.8 C577.2,377.4 580.1,377.6 581.2,377.7Q583.3,378.9 581.2,380.2 C580.1,380.4 577.2,381.2 574.6,381.2 C572.0,381.2 568.2,380.9 565.3,380.2 C562.4,379.5 560.0,378.3 557.1,376.8 C554.3,375.3 551.6,373.9 548.0,371.2 C544.5,368.5 540.2,364.3 536.0,360.6 C531.8,356.9 527.7,353.1 523.0,348.8 C518.3,344.6 513.0,339.7 508.0,335.1 C503.0,330.5 498.0,326.0 493.0,321.3 C488.0,316.6 483.0,311.8 478.0,307.1 C473.0,302.4 468.0,297.6 463.0,292.9 C458.0,288.2 453.0,283.6 448.0,279.0 C443.0,274.4 437.0,268.8 433.0,265.1 C429.0,261.4 426.2,259.0 424.0,257.0 C421.8,255.0 420.8,254.1 419.5,253.2 C418.2,252.3 417.1,252.2 416.0,251.8 C414.9,251.4 413.9,251.0 412.8,251.0 C411.7,251.0 410.1,251.7 409.6,251.8L408.4,252.4 L403.0,250.0Z"/>
<polygon points="400.0,240.0 407.5,242.7 409.6,251.9 411.2,253.6 400.0,265.0" fill="rgb(34,79,255)"/>
<path fill="rgb(90,245,235)" d="M258.8,308.8L505.5,49.3 L506.8,50.5 L259.2,309.2Z"/>
<path fill="rgb(255,175,45)" d="M258.1,308.2L504.4,48.2 L505.1,48.9 L258.6,308.7Z"/>
<path fill="rgb(132,255,32)" d="M258.4,308.5L504.9,48.7 L505.8,49.5 L259.0,309.0Z"/>
<path fill="rgb(90,245,235)" d="M311.7,357.6L410.2,253.7 L409.0,252.5 L311.3,357.2Z"/>
<path fill="rgb(255,175,45)" d="M312.4,358.3L411.4,254.8 L410.7,254.1 L311.8,357.8Z"/>
<path fill="rgb(132,255,32)" d="M312.1,358.0L410.8,254.3 L410.0,253.4 L311.5,357.4Z"/>
<path fill="none" stroke="rgb(255,175,45)" stroke-width="0.9" stroke-linejoin="miter" d="M559.2,98.3L460.6,202.3 L625.2,353.3 L575.8,405.3 L410.8,254.5"/>
<path fill="none" stroke="rgb(132,255,32)" stroke-width="1.1" stroke-linejoin="miter" d="M558.6,97.7L459.4,202.3 L624.0,353.3 L575.8,404.1 L411.4,253.9"/>
</g>
</g>
<rect x="650.0" y="49.4" width="25.9" height="339.0" fill="#000"/>
<rect x="652.8" y="52.2" width="20.3" height="333.4" fill="url(#cbb)"/>
<text class="ttl" transform="translate(646.3,38.7) scale(0.990,1.000)">温度<tspan dx="1.2">/</tspan><tspan class="k" dx="0.2" dy="-0.6" textLength="24.40" lengthAdjust="spacingAndGlyphs">K</tspan></text>
<text class="lab" transform="translate(680.5,66.40) scale(1.060,1)">318</text>
<text class="lab" transform="translate(680.5,93.98) scale(1.060,1)">316</text>
<text class="lab" transform="translate(680.5,121.56) scale(1.060,1)">314</text>
<text class="lab" transform="translate(680.5,149.14) scale(1.060,1)">312</text>
<text class="lab" transform="translate(680.5,176.72) scale(1.060,1)">309</text>
<text class="lab" transform="translate(680.5,204.30) scale(1.060,1)">308</text>
<text class="lab" transform="translate(680.5,231.88) scale(1.060,1)">305</text>
<text class="lab" transform="translate(680.5,259.46) scale(1.060,1)">303</text>
<text class="lab" transform="translate(680.5,287.04) scale(1.060,1)">301</text>
<text class="lab" transform="translate(680.5,314.62) scale(1.060,1)">299</text>
<text class="lab" transform="translate(680.5,342.20) scale(1.060,1)">297</text>
<text class="lab" transform="translate(680.5,369.78) scale(1.060,1)">295</text>
<text class="lab" transform="translate(680.5,397.36) scale(1.060,1)">293</text>
<text class="cap" transform="translate(939.1,436.3) scale(1.050,1)">(b) <tspan class="it">v</tspan><tspan class="eq">=</tspan>4 m/s</text>
<text class="cap" transform="translate(939.1,475.3) scale(1.050,1)">(<tspan class="it">x</tspan><tspan class="eq">=</tspan>0.6 m, BL<tspan class="eq">=</tspan>9 m)</text>
<g transform="translate(-0.30,479.40)">
<g>
<polygon points="504.8,48.6 559.1,98.2 460.4,202.3 625.0,353.3 575.8,405.1 410.9,254.4 312.1,358.0 258.4,308.5" fill="rgb(34,79,255)"/>
<path fill="rgb(119,255,212)" d="M553.5,93.1L559.1,98.2 L460.4,202.3 L625.0,353.3 L575.8,405.1 L410.9,254.4L409.2,242.9 C410.4,241.4 412.9,237.2 416.5,234.1 C420.1,231.0 426.6,227.4 430.6,224.1 C434.7,220.8 438.2,217.3 440.9,214.1 C443.6,210.9 444.6,208.1 446.7,205.1 C448.9,202.1 452.0,199.3 453.8,196.1 C455.6,192.9 453.0,191.8 457.5,186.1 C462.0,180.4 473.4,169.4 481.0,162.1 C488.6,154.8 496.0,148.8 503.1,142.1 C510.2,135.4 516.5,128.8 523.5,122.1 C530.5,115.4 540.0,106.9 545.0,102.1 C550.0,97.3 552.1,94.6 553.5,93.1Z"/>
<path fill="rgb(100,250,238)" d="M554.5,94.0 C553.1,95.5 551.0,98.2 546.0,103.0 C541.0,107.8 531.5,116.3 524.5,123.0 C517.5,129.7 511.2,136.3 504.1,143.0 C497.0,149.7 489.6,155.7 482.0,163.0 C474.4,170.3 463.0,181.3 458.5,187.0 C454.0,192.7 456.6,193.8 454.8,197.0 C453.0,200.2 449.9,203.0 447.7,206.0 C445.6,209.0 444.6,211.8 441.9,215.0 C439.2,218.2 435.7,221.7 431.6,225.0 C427.6,228.3 421.1,231.9 417.5,235.0 C413.9,238.1 411.4,242.3 410.2,243.8L407.2,242.3 C408.3,240.9 410.6,237.1 413.5,234.1 C416.5,231.1 421.2,227.4 424.9,224.1 C428.6,220.8 432.8,217.3 435.8,214.1 C438.8,210.9 440.3,208.1 442.6,205.1 C445.0,202.1 447.8,199.3 449.8,196.1 C451.8,192.9 450.1,191.8 454.6,186.1 C459.0,180.4 469.4,169.4 476.6,162.1 C483.8,154.8 490.9,148.8 497.9,142.1 C504.9,135.4 511.8,128.8 518.9,122.1 C525.9,115.4 535.2,107.1 540.2,102.1 C545.3,97.1 547.5,94.0 549.3,92.1 C551.0,90.2 550.5,90.8 550.8,90.6Z"/>
<path fill="rgb(84,228,255)" d="M551.8,91.5 C551.5,91.8 552.0,91.1 550.3,93.0 C548.5,94.9 546.3,98.0 541.2,103.0 C536.2,108.0 526.9,116.3 519.9,123.0 C512.8,129.7 505.9,136.3 498.9,143.0 C491.9,149.7 484.8,155.7 477.6,163.0 C470.4,170.3 460.0,181.3 455.6,187.0 C451.1,192.7 452.8,193.8 450.8,197.0 C448.8,200.2 446.0,203.0 443.6,206.0 C441.3,209.0 439.8,211.8 436.8,215.0 C433.8,218.2 429.6,221.7 425.9,225.0 C422.2,228.3 417.5,232.0 414.5,235.0 C411.6,238.0 409.3,241.8 408.2,243.2L406.8,242.9 C407.5,241.6 409.2,238.0 411.2,235.0 C413.1,232.0 415.6,228.3 418.6,225.0 C421.6,221.7 426.3,218.2 429.0,215.0 C431.7,211.8 432.6,209.0 435.0,206.0 C437.4,203.0 440.7,200.2 443.3,197.0 C446.0,193.8 446.6,192.7 451.0,187.0 C455.4,181.3 463.7,170.3 469.9,163.0 C476.0,155.7 481.8,149.7 487.9,143.0 C494.0,136.3 499.8,129.7 506.2,123.0 C512.7,116.3 521.9,108.0 526.7,103.0 C531.5,98.0 532.5,96.2 535.3,93.0 C538.1,89.8 542.3,85.6 543.7,84.1Z"/>
<path fill="rgb(58,120,255)" d="M547.7,87.8 C546.9,88.7 545.1,90.5 542.8,93.0 C540.5,95.5 538.8,98.0 533.8,103.0 C528.8,108.0 519.5,116.3 512.8,123.0 C506.1,129.7 500.3,136.3 493.8,143.0 C487.2,149.7 480.0,155.7 473.3,163.0 C466.5,170.3 457.7,181.3 453.4,187.0 C449.2,192.7 450.1,193.8 447.8,197.0 C445.6,200.2 443.1,203.0 439.9,206.0 C436.7,209.0 431.4,212.9 428.8,215.0 C426.2,217.1 425.0,218.0 424.3,218.6L418.6,225.0 C420.4,223.3 426.3,218.2 429.0,215.0 C431.7,211.8 432.6,209.0 435.0,206.0 C437.4,203.0 440.7,200.2 443.3,197.0 C446.0,193.8 446.6,192.7 451.0,187.0 C455.4,181.3 463.7,170.3 469.9,163.0 C476.0,155.7 481.8,149.7 487.9,143.0 C494.0,136.3 499.8,129.7 506.2,123.0 C512.7,116.3 521.9,108.0 526.7,103.0 C531.5,98.0 532.5,96.2 535.3,93.0 C538.1,89.8 542.3,85.6 543.7,84.1Z"/>
<path fill="url(#und)" d="M410.9,254.4L575.8,405.1 L591.5,388.6 L584.0,381.0L580.6,379.4 C579.5,379.6 576.6,380.4 574.0,380.4 C571.4,380.4 567.8,380.3 565.0,379.6 C562.2,378.9 559.8,377.8 557.0,376.4 C554.2,375.0 551.5,373.6 548.0,371.0 C544.5,368.4 540.2,364.3 536.0,360.6 C531.8,356.9 527.7,353.1 523.0,348.8 C518.3,344.6 513.0,339.7 508.0,335.1 C503.0,330.5 498.0,326.0 493.0,321.3 C488.0,316.6 483.0,311.8 478.0,307.1 C473.0,302.4 468.0,297.6 463.0,292.9 C458.0,288.2 453.0,283.6 448.0,279.0 C443.0,274.4 437.0,268.8 433.0,265.1 C429.0,261.4 426.2,259.0 424.0,257.0 C421.8,255.0 420.8,254.1 419.5,253.2 C418.2,252.3 417.1,252.2 416.0,251.8 C414.9,251.4 413.9,251.0 412.8,251.0 C411.7,251.0 410.1,251.7 409.6,251.8Z"/>
<path fill="rgb(100,250,238)" d="M585.0,322.5 C586.2,324.2 590.0,329.5 592.5,332.5 C595.0,335.5 597.7,338.0 600.0,340.6 C602.3,343.2 604.7,345.7 606.2,348.1 C607.8,350.5 609.2,352.8 609.4,355.0 C609.6,357.2 609.0,359.2 607.5,361.2 C606.0,363.3 603.3,365.8 600.6,367.5 C597.9,369.2 594.4,370.3 591.2,371.2 C588.1,372.2 585.0,372.7 581.9,373.1 C578.8,373.5 575.8,373.9 572.5,373.8 C569.2,373.6 563.8,372.3 562.0,372.0L565.0,376.5 L580.5,380.5 L588.0,389.5 L590.5,388.2L625.0,353.3Z"/>
<path fill="rgb(84,228,255)" d="M610.0,346.6 C610.5,346.8 612.3,347.0 613.3,347.8 C614.3,348.6 615.4,350.3 616.0,351.5 C616.6,352.7 617.3,353.6 616.9,355.0 C616.5,356.4 615.7,357.2 613.6,359.6 C611.5,362.0 607.2,366.4 604.2,369.6 C601.2,372.8 597.6,376.6 595.5,379.0 C593.4,381.4 593.4,382.8 591.5,383.8 C589.6,384.8 587.1,384.7 584.0,384.8 C580.9,384.9 576.8,384.7 573.0,384.2 C569.2,383.7 564.7,382.9 561.0,381.6 C557.3,380.3 553.7,378.1 551.0,376.4 C548.3,374.7 546.0,372.3 545.0,371.5L552.5,375.0 C554.6,375.8 561.4,378.9 565.0,379.8 C568.6,380.7 571.4,380.7 574.0,380.4 C576.6,380.1 578.7,379.3 580.5,378.2 C582.3,377.1 583.2,375.0 585.0,374.0 C586.8,373.0 588.8,373.2 591.2,372.4 C593.8,371.6 597.3,370.7 600.0,369.2 C602.7,367.7 605.7,365.4 607.5,363.5 C609.3,361.6 610.4,359.4 611.0,357.5 C611.6,355.6 611.6,354.0 611.4,352.2 C611.2,350.4 610.2,347.5 610.0,346.6Z"/>
<path fill="url(#stk)" stroke="rgb(100,250,238)" stroke-width="1.2" d="M406.8,242.9 C407.3,243.0 409.1,243.1 409.8,243.2 C410.5,243.3 410.2,243.1 411.2,243.4 C412.3,243.7 414.4,244.0 416.0,244.9 C417.6,245.8 418.2,246.2 421.0,248.6 C423.8,251.0 428.5,255.5 433.0,259.5 C437.5,263.5 443.0,268.1 448.0,272.4 C453.0,276.7 458.0,280.9 463.0,285.4 C468.0,289.9 473.0,294.9 478.0,299.6 C483.0,304.4 488.0,309.2 493.0,313.9 C498.0,318.6 503.0,323.1 508.0,327.7 C513.0,332.3 518.3,337.1 523.0,341.4 C527.7,345.6 531.8,349.5 536.0,353.2 C540.2,356.9 544.6,360.6 548.3,363.5 C551.9,366.3 554.9,368.3 558.1,370.1 C561.4,371.9 564.1,372.9 567.5,374.1 C570.9,375.2 575.6,376.4 578.6,377.0 C581.6,377.6 584.1,377.8 585.2,377.9Q587.1,378.9 585.2,380.0 C584.1,380.2 581.6,381.0 578.6,381.0 C575.6,381.0 570.9,380.8 567.5,380.0 C564.1,379.3 561.4,378.2 558.1,376.7 C554.9,375.2 551.9,373.8 548.3,371.1 C544.6,368.5 540.2,364.3 536.0,360.6 C531.8,356.9 527.7,353.1 523.0,348.8 C518.3,344.6 513.0,339.7 508.0,335.1 C503.0,330.5 498.0,326.0 493.0,321.3 C488.0,316.6 483.0,311.8 478.0,307.1 C473.0,302.4 468.0,297.6 463.0,292.9 C458.0,288.2 453.0,283.6 448.0,279.0 C443.0,274.4 437.0,268.8 433.0,265.1 C429.0,261.4 426.2,259.0 424.0,257.0 C421.8,255.0 420.8,254.1 419.5,253.2 C418.2,252.3 417.1,252.2 416.0,251.8 C414.9,251.4 413.9,251.0 412.8,251.0 C411.7,251.0 410.1,251.7 409.6,251.8L408.4,252.4 L403.0,250.0Z"/>
<path fill="url(#stk)" d="M406.8,242.9 C407.3,243.0 409.1,243.1 409.8,243.2 C410.5,243.3 410.2,243.1 411.2,243.4 C412.3,243.7 414.4,244.0 416.0,244.9 C417.6,245.8 418.2,246.2 421.0,248.6 C423.8,251.0 428.5,255.5 433.0,259.5 C437.5,263.5 443.0,268.1 448.0,272.4 C453.0,276.7 458.0,280.9 463.0,285.4 C468.0,289.9 473.0,294.9 478.0,299.6 C483.0,304.4 488.0,309.2 493.0,313.9 C498.0,318.6 503.0,323.1 508.0,327.7 C513.0,332.3 518.3,337.1 523.0,341.4 C527.7,345.6 531.8,349.5 536.0,353.2 C540.2,356.9 544.6,360.6 548.3,363.5 C551.9,366.3 554.9,368.3 558.1,370.1 C561.4,371.9 564.1,372.9 567.5,374.1 C570.9,375.2 575.6,376.4 578.6,377.0 C581.6,377.6 584.1,377.8 585.2,377.9Q587.1,378.9 585.2,380.0 C584.1,380.2 581.6,381.0 578.6,381.0 C575.6,381.0 570.9,380.8 567.5,380.0 C564.1,379.3 561.4,378.2 558.1,376.7 C554.9,375.2 551.9,373.8 548.3,371.1 C544.6,368.5 540.2,364.3 536.0,360.6 C531.8,356.9 527.7,353.1 523.0,348.8 C518.3,344.6 513.0,339.7 508.0,335.1 C503.0,330.5 498.0,326.0 493.0,321.3 C488.0,316.6 483.0,311.8 478.0,307.1 C473.0,302.4 468.0,297.6 463.0,292.9 C458.0,288.2 453.0,283.6 448.0,279.0 C443.0,274.4 437.0,268.8 433.0,265.1 C429.0,261.4 426.2,259.0 424.0,257.0 C421.8,255.0 420.8,254.1 419.5,253.2 C418.2,252.3 417.1,252.2 416.0,251.8 C414.9,251.4 413.9,251.0 412.8,251.0 C411.7,251.0 410.1,251.7 409.6,251.8L408.4,252.4 L403.0,250.0Z"/>
<polygon points="400.0,240.0 407.5,242.7 409.6,251.9 411.2,253.6 400.0,265.0" fill="rgb(34,79,255)"/>
<path fill="rgb(90,245,235)" d="M258.8,308.8L505.5,49.3 L506.8,50.5 L259.2,309.2Z"/>
<path fill="rgb(255,175,45)" d="M258.1,308.2L504.4,48.2 L505.1,48.9 L258.6,308.7Z"/>
<path fill="rgb(132,255,32)" d="M258.4,308.5L504.9,48.7 L505.8,49.5 L259.0,309.0Z"/>
<path fill="rgb(90,245,235)" d="M311.7,357.6L410.2,253.7 L409.0,252.5 L311.3,357.2Z"/>
<path fill="rgb(255,175,45)" d="M312.4,358.3L411.4,254.8 L410.7,254.1 L311.8,357.8Z"/>
<path fill="rgb(132,255,32)" d="M312.1,358.0L410.8,254.3 L410.0,253.4 L311.5,357.4Z"/>
<path fill="none" stroke="rgb(255,175,45)" stroke-width="0.9" stroke-linejoin="miter" d="M559.2,98.3L460.6,202.3 L625.2,353.3 L575.8,405.3 L410.8,254.5"/>
<path fill="none" stroke="rgb(132,255,32)" stroke-width="1.1" stroke-linejoin="miter" d="M558.6,97.7L459.4,202.3 L624.0,353.3 L575.8,404.1 L411.4,253.9"/>
</g>
</g>
<rect x="163.1" y="534.2" width="25.0" height="339.0" fill="#000"/>
<rect x="165.9" y="537.0" width="19.4" height="333.4" fill="url(#cbc)"/>
<text class="ttl" transform="translate(163.6,522.6) scale(0.990,1.000)">温度<tspan dx="1.2">/</tspan><tspan class="k" dx="0.2" dy="-0.6" textLength="24.40" lengthAdjust="spacingAndGlyphs">K</tspan></text>
<text class="lab" transform="translate(192.6,549.80) scale(1.035,1)">318</text>
<text class="lab" transform="translate(192.6,577.38) scale(1.035,1)">316</text>
<text class="lab" transform="translate(192.6,604.96) scale(1.035,1)">314</text>
<text class="lab" transform="translate(192.6,632.54) scale(1.035,1)">312</text>
<text class="lab" transform="translate(192.6,660.12) scale(1.035,1)">310</text>
<text class="lab" transform="translate(192.6,687.70) scale(1.035,1)">308</text>
<text class="lab" transform="translate(192.6,715.28) scale(1.035,1)">305</text>
<text class="lab" transform="translate(192.6,742.86) scale(1.035,1)">303</text>
<text class="lab" transform="translate(192.6,770.44) scale(1.035,1)">301</text>
<text class="lab" transform="translate(192.6,798.02) scale(1.035,1)">299</text>
<text class="lab" transform="translate(192.6,825.60) scale(1.035,1)">297</text>
<text class="lab" transform="translate(192.6,853.18) scale(1.035,1)">295</text>
<text class="lab" transform="translate(192.6,880.76) scale(1.035,1)">293</text>
<text class="cap" transform="translate(419.4,921.3) scale(1.050,1)">(c) <tspan class="it">v</tspan><tspan class="eq">=</tspan>5 m/s</text>
<text class="cap" transform="translate(419.4,960.2) scale(1.050,1)">(<tspan class="it">x</tspan><tspan class="eq">=</tspan>0.6 m, BL<tspan class="eq">=</tspan>9 m)</text>
<g transform="translate(493.75,478.10)">
<g>
<polygon points="504.8,48.6 559.1,98.2 460.4,202.3 625.0,353.3 575.8,405.1 410.9,254.4 312.1,358.0 258.4,308.5" fill="rgb(34,79,255)"/>
<path fill="rgb(119,255,212)" d="M553.5,93.1L559.1,98.2 L460.4,202.3 L625.0,353.3 L575.8,405.1 L410.9,254.4L409.2,242.9 C410.5,241.4 413.5,237.2 417.3,234.1 C421.0,231.0 427.6,227.4 431.7,224.1 C435.7,220.8 438.9,217.3 441.5,214.1 C444.1,210.9 444.9,208.1 447.0,205.1 C449.1,202.1 452.3,199.3 454.1,196.1 C455.9,192.9 453.3,191.8 457.8,186.1 C462.3,180.4 473.5,169.4 481.1,162.1 C488.6,154.8 496.0,148.8 503.1,142.1 C510.2,135.4 516.5,128.8 523.5,122.1 C530.5,115.4 540.0,106.9 545.0,102.1 C550.0,97.3 552.1,94.6 553.5,93.1Z"/>
<path fill="rgb(100,250,238)" d="M554.5,94.0 C553.1,95.5 551.0,98.2 546.0,103.0 C541.0,107.8 531.5,116.3 524.5,123.0 C517.5,129.7 511.2,136.3 504.1,143.0 C497.0,149.7 489.6,155.7 482.1,163.0 C474.5,170.3 463.3,181.3 458.8,187.0 C454.3,192.7 456.9,193.8 455.1,197.0 C453.3,200.2 450.1,203.0 448.0,206.0 C445.9,209.0 445.1,211.8 442.5,215.0 C439.9,218.2 436.7,221.7 432.7,225.0 C428.6,228.3 422.0,231.9 418.3,235.0 C414.5,238.1 411.5,242.3 410.2,243.8L407.2,242.3 C408.3,240.9 411.0,237.1 414.1,234.1 C417.2,231.1 422.0,227.4 425.6,224.1 C429.3,220.8 433.4,217.3 436.2,214.1 C439.1,210.9 440.6,208.1 442.9,205.1 C445.2,202.1 448.0,199.3 450.0,196.1 C452.0,192.9 450.3,191.8 454.8,186.1 C459.2,180.4 469.5,169.4 476.7,162.1 C483.9,154.8 490.9,148.8 497.9,142.1 C504.9,135.4 511.8,128.8 518.9,122.1 C525.9,115.4 535.2,107.1 540.2,102.1 C545.3,97.1 547.5,94.0 549.3,92.1 C551.0,90.2 550.5,90.8 550.8,90.6Z"/>
<path fill="rgb(84,228,255)" d="M551.8,91.5 C551.5,91.8 552.0,91.1 550.3,93.0 C548.5,94.9 546.3,98.0 541.2,103.0 C536.2,108.0 526.9,116.3 519.9,123.0 C512.8,129.7 505.9,136.3 498.9,143.0 C491.9,149.7 484.9,155.7 477.7,163.0 C470.5,170.3 460.2,181.3 455.8,187.0 C451.3,192.7 453.0,193.8 451.0,197.0 C449.0,200.2 446.2,203.0 443.9,206.0 C441.6,209.0 440.1,211.8 437.2,215.0 C434.4,218.2 430.3,221.7 426.6,225.0 C423.0,228.3 418.2,232.0 415.1,235.0 C412.0,238.0 409.3,241.8 408.2,243.2L406.8,242.9 C407.6,241.6 409.5,238.0 411.5,235.0 C413.5,232.0 415.8,228.3 418.9,225.0 C422.0,221.7 427.1,218.2 429.9,215.0 C432.8,211.8 433.7,209.0 436.1,206.0 C438.5,203.0 441.6,200.2 444.2,197.0 C446.8,193.8 447.3,192.7 451.6,187.0 C455.9,181.3 464.0,170.3 470.1,163.0 C476.1,155.7 481.9,149.7 487.9,143.0 C493.9,136.3 499.8,129.7 506.2,123.0 C512.7,116.3 521.9,108.0 526.7,103.0 C531.5,98.0 532.5,96.2 535.3,93.0 C538.1,89.8 542.3,85.6 543.7,84.1Z"/>
<path fill="rgb(58,120,255)" d="M547.7,87.8 C546.9,88.7 545.1,90.5 542.8,93.0 C540.5,95.5 538.8,98.0 533.8,103.0 C528.8,108.0 519.5,116.3 512.8,123.0 C506.1,129.7 500.3,136.3 493.8,143.0 C487.2,149.7 480.1,155.7 473.4,163.0 C466.7,170.3 458.0,181.3 453.8,187.0 C449.7,192.7 450.6,193.8 448.4,197.0 C446.2,200.2 443.8,203.0 440.6,206.0 C437.5,209.0 432.1,212.9 429.4,215.0 C426.8,217.1 425.5,218.0 424.7,218.6L418.9,225.0 C420.7,223.3 427.1,218.2 429.9,215.0 C432.8,211.8 433.7,209.0 436.1,206.0 C438.5,203.0 441.6,200.2 444.2,197.0 C446.8,193.8 447.3,192.7 451.6,187.0 C455.9,181.3 464.0,170.3 470.1,163.0 C476.1,155.7 481.9,149.7 487.9,143.0 C493.9,136.3 499.8,129.7 506.2,123.0 C512.7,116.3 521.9,108.0 526.7,103.0 C531.5,98.0 532.5,96.2 535.3,93.0 C538.1,89.8 542.3,85.6 543.7,84.1Z"/>
<path fill="url(#und)" d="M410.9,254.4L575.8,405.1 L591.5,388.6 L584.0,381.0L580.6,379.4 C579.5,379.6 576.6,380.4 574.0,380.4 C571.4,380.4 567.8,380.3 565.0,379.6 C562.2,378.9 559.8,377.8 557.0,376.4 C554.2,375.0 551.5,373.6 548.0,371.0 C544.5,368.4 540.2,364.3 536.0,360.6 C531.8,356.9 527.7,353.1 523.0,348.8 C518.3,344.6 513.0,339.7 508.0,335.1 C503.0,330.5 498.0,326.0 493.0,321.3 C488.0,316.6 483.0,311.8 478.0,307.1 C473.0,302.4 468.0,297.6 463.0,292.9 C458.0,288.2 453.0,283.6 448.0,279.0 C443.0,274.4 437.0,268.8 433.0,265.1 C429.0,261.4 426.2,259.0 424.0,257.0 C421.8,255.0 420.8,254.1 419.5,253.2 C418.2,252.3 417.1,252.2 416.0,251.8 C414.9,251.4 413.9,251.0 412.8,251.0 C411.7,251.0 410.1,251.7 409.6,251.8Z"/>
<path fill="rgb(100,250,238)" d="M585.0,322.5 C586.2,324.2 590.0,329.5 592.5,332.5 C595.0,335.5 597.7,338.0 600.0,340.6 C602.3,343.2 604.7,345.7 606.2,348.1 C607.8,350.5 609.2,352.8 609.4,355.0 C609.6,357.2 609.0,359.2 607.5,361.2 C606.0,363.3 603.3,365.8 600.6,367.5 C597.9,369.2 594.4,370.3 591.2,371.2 C588.1,372.2 585.0,372.7 581.9,373.1 C578.8,373.5 575.8,373.9 572.5,373.8 C569.2,373.6 563.8,372.3 562.0,372.0L565.0,376.5 L580.5,380.5 L588.0,389.5 L590.5,388.2L625.0,353.3Z"/>
<path fill="rgb(84,228,255)" d="M610.0,346.6 C610.5,346.8 612.3,347.0 613.3,347.8 C614.3,348.6 615.4,350.3 616.0,351.5 C616.6,352.7 617.3,353.6 616.9,355.0 C616.5,356.4 615.7,357.2 613.6,359.6 C611.5,362.0 607.2,366.4 604.2,369.6 C601.2,372.8 597.6,376.6 595.5,379.0 C593.4,381.4 593.4,382.8 591.5,383.8 C589.6,384.8 587.1,384.7 584.0,384.8 C580.9,384.9 576.8,384.7 573.0,384.2 C569.2,383.7 564.7,382.9 561.0,381.6 C557.3,380.3 553.7,378.1 551.0,376.4 C548.3,374.7 546.0,372.3 545.0,371.5L552.5,375.0 C554.6,375.8 561.4,378.9 565.0,379.8 C568.6,380.7 571.4,380.7 574.0,380.4 C576.6,380.1 578.7,379.3 580.5,378.2 C582.3,377.1 583.2,375.0 585.0,374.0 C586.8,373.0 588.8,373.2 591.2,372.4 C593.8,371.6 597.3,370.7 600.0,369.2 C602.7,367.7 605.7,365.4 607.5,363.5 C609.3,361.6 610.4,359.4 611.0,357.5 C611.6,355.6 611.6,354.0 611.4,352.2 C611.2,350.4 610.2,347.5 610.0,346.6Z"/>
<path fill="url(#stk)" stroke="rgb(100,250,238)" stroke-width="1.2" d="M406.8,242.9 C407.3,243.0 409.1,243.1 409.8,243.2 C410.5,243.3 410.2,243.1 411.2,243.4 C412.3,243.7 414.4,244.0 416.0,244.9 C417.6,245.8 418.2,246.2 421.0,248.6 C423.8,251.0 428.5,255.5 433.0,259.5 C437.5,263.5 443.0,268.1 448.0,272.4 C453.0,276.7 458.0,280.9 463.0,285.4 C468.0,289.9 473.0,294.9 478.0,299.6 C483.0,304.4 488.0,309.2 493.0,313.9 C498.0,318.6 503.0,323.1 508.0,327.7 C513.0,332.3 518.3,337.1 523.0,341.4 C527.7,345.6 531.8,349.5 536.0,353.2 C540.2,356.9 544.5,360.6 548.2,363.4 C551.8,366.1 554.6,368.2 557.7,369.9 C560.8,371.6 563.3,372.6 566.5,373.8 C569.7,374.9 574.0,376.0 576.8,376.6 C579.6,377.2 582.3,377.4 583.4,377.5Q585.6,378.9 583.4,380.4 C582.3,380.6 579.6,381.4 576.8,381.4 C574.0,381.4 569.7,381.1 566.5,380.3 C563.3,379.6 560.8,378.4 557.7,376.9 C554.6,375.4 551.8,374.0 548.2,371.2 C544.5,368.5 540.2,364.3 536.0,360.6 C531.8,356.9 527.7,353.1 523.0,348.8 C518.3,344.6 513.0,339.7 508.0,335.1 C503.0,330.5 498.0,326.0 493.0,321.3 C488.0,316.6 483.0,311.8 478.0,307.1 C473.0,302.4 468.0,297.6 463.0,292.9 C458.0,288.2 453.0,283.6 448.0,279.0 C443.0,274.4 437.0,268.8 433.0,265.1 C429.0,261.4 426.2,259.0 424.0,257.0 C421.8,255.0 420.8,254.1 419.5,253.2 C418.2,252.3 417.1,252.2 416.0,251.8 C414.9,251.4 413.9,251.0 412.8,251.0 C411.7,251.0 410.1,251.7 409.6,251.8L408.4,252.4 L403.0,250.0Z"/>
<path fill="url(#stk)" d="M406.8,242.9 C407.3,243.0 409.1,243.1 409.8,243.2 C410.5,243.3 410.2,243.1 411.2,243.4 C412.3,243.7 414.4,244.0 416.0,244.9 C417.6,245.8 418.2,246.2 421.0,248.6 C423.8,251.0 428.5,255.5 433.0,259.5 C437.5,263.5 443.0,268.1 448.0,272.4 C453.0,276.7 458.0,280.9 463.0,285.4 C468.0,289.9 473.0,294.9 478.0,299.6 C483.0,304.4 488.0,309.2 493.0,313.9 C498.0,318.6 503.0,323.1 508.0,327.7 C513.0,332.3 518.3,337.1 523.0,341.4 C527.7,345.6 531.8,349.5 536.0,353.2 C540.2,356.9 544.5,360.6 548.2,363.4 C551.8,366.1 554.6,368.2 557.7,369.9 C560.8,371.6 563.3,372.6 566.5,373.8 C569.7,374.9 574.0,376.0 576.8,376.6 C579.6,377.2 582.3,377.4 583.4,377.5Q585.6,378.9 583.4,380.4 C582.3,380.6 579.6,381.4 576.8,381.4 C574.0,381.4 569.7,381.1 566.5,380.3 C563.3,379.6 560.8,378.4 557.7,376.9 C554.6,375.4 551.8,374.0 548.2,371.2 C544.5,368.5 540.2,364.3 536.0,360.6 C531.8,356.9 527.7,353.1 523.0,348.8 C518.3,344.6 513.0,339.7 508.0,335.1 C503.0,330.5 498.0,326.0 493.0,321.3 C488.0,316.6 483.0,311.8 478.0,307.1 C473.0,302.4 468.0,297.6 463.0,292.9 C458.0,288.2 453.0,283.6 448.0,279.0 C443.0,274.4 437.0,268.8 433.0,265.1 C429.0,261.4 426.2,259.0 424.0,257.0 C421.8,255.0 420.8,254.1 419.5,253.2 C418.2,252.3 417.1,252.2 416.0,251.8 C414.9,251.4 413.9,251.0 412.8,251.0 C411.7,251.0 410.1,251.7 409.6,251.8L408.4,252.4 L403.0,250.0Z"/>
<polygon points="400.0,240.0 407.5,242.7 409.6,251.9 411.2,253.6 400.0,265.0" fill="rgb(34,79,255)"/>
<path fill="rgb(90,245,235)" d="M258.8,308.8L505.5,49.3 L506.8,50.5 L259.2,309.2Z"/>
<path fill="rgb(255,175,45)" d="M258.1,308.2L504.4,48.2 L505.1,48.9 L258.6,308.7Z"/>
<path fill="rgb(132,255,32)" d="M258.4,308.5L504.9,48.7 L505.8,49.5 L259.0,309.0Z"/>
<path fill="rgb(90,245,235)" d="M311.7,357.6L410.2,253.7 L409.0,252.5 L311.3,357.2Z"/>
<path fill="rgb(255,175,45)" d="M312.4,358.3L411.4,254.8 L410.7,254.1 L311.8,357.8Z"/>
<path fill="rgb(132,255,32)" d="M312.1,358.0L410.8,254.3 L410.0,253.4 L311.5,357.4Z"/>
<path fill="none" stroke="rgb(255,175,45)" stroke-width="0.9" stroke-linejoin="miter" d="M559.2,98.3L460.6,202.3 L625.2,353.3 L575.8,405.3 L410.8,254.5"/>
<path fill="none" stroke="rgb(132,255,32)" stroke-width="1.1" stroke-linejoin="miter" d="M558.6,97.7L459.4,202.3 L624.0,353.3 L575.8,404.1 L411.4,253.9"/>
</g>
</g>
<rect x="650.0" y="534.3" width="25.9" height="339.0" fill="#000"/>
<rect x="652.8" y="537.1" width="20.3" height="333.4" fill="url(#cbd)"/>
<text class="ttl" transform="translate(646.3,524.9) scale(0.990,1.000)">温度<tspan dx="1.2">/</tspan><tspan class="k" dx="0.2" dy="-0.6" textLength="24.40" lengthAdjust="spacingAndGlyphs">K</tspan></text>
<text class="lab" transform="translate(680.5,552.70) scale(1.060,1)">318</text>
<text class="lab" transform="translate(680.5,580.25) scale(1.060,1)">316</text>
<text class="lab" transform="translate(680.5,607.80) scale(1.060,1)">314</text>
<text class="lab" transform="translate(680.5,635.35) scale(1.060,1)">312</text>
<text class="lab" transform="translate(680.5,662.90) scale(1.060,1)">310</text>
<text class="lab" transform="translate(680.5,690.45) scale(1.060,1)">308</text>
<text class="lab" transform="translate(680.5,718.00) scale(1.060,1)">305</text>
<text class="lab" transform="translate(680.5,745.55) scale(1.060,1)">303</text>
<text class="lab" transform="translate(680.5,773.10) scale(1.060,1)">301</text>
<text class="lab" transform="translate(680.5,800.65) scale(1.060,1)">299</text>
<text class="lab" transform="translate(680.5,828.20) scale(1.060,1)">297</text>
<text class="lab" transform="translate(680.5,855.75) scale(1.060,1)">295</text>
<text class="lab" transform="translate(680.5,883.30) scale(1.060,1)">293</text>
<text class="cap" transform="translate(939.1,921.9) scale(1.050,1)">(d) <tspan class="it">v</tspan><tspan class="eq">=</tspan>6 m/s</text>
<text class="cap" transform="translate(939.1,960.4) scale(1.050,1)">(<tspan class="it">x</tspan><tspan class="eq">=</tspan>0.6 m, BL<tspan class="eq">=</tspan>9 m)</text>
</svg>
</body>
</html>
